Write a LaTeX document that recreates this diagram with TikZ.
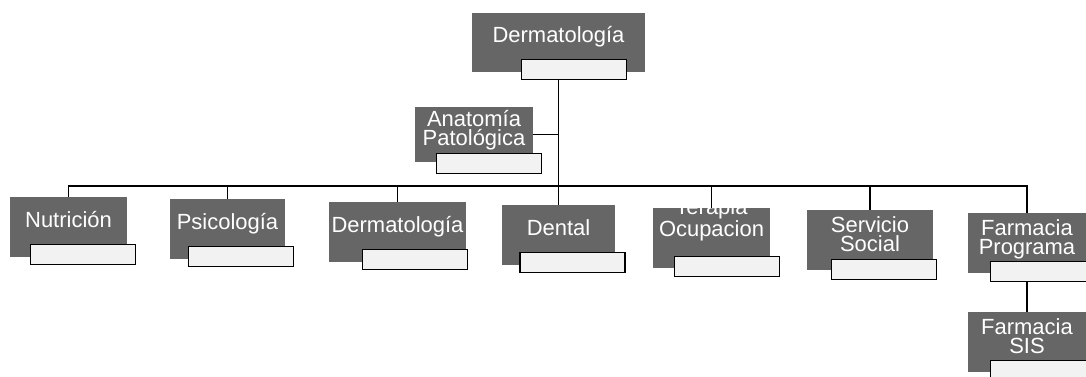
\documentclass[tikz,border=0pt]{standalone}
\usepackage{fontspec}
\newfontfamily\orgfont{Liberation Sans}
\usepackage{tikz}
\usetikzlibrary{positioning}
\definecolor{unitgray}{gray}{0.40}
\definecolor{taggray}{gray}{0.95}

\begin{document}
\begin{tikzpicture}[x=0.02cm, y=-0.02cm,
  unit/.style={fill=unitgray, text=white, font=\orgfont\fontsize{12.5}{11}\selectfont, align=center, inner sep=0pt, minimum height=1.2cm},
  one/.style={text height=9pt, text depth=9pt},
  two/.style={text height=20pt, text depth=7pt},
  tag/.style={draw, fill=taggray, line width=0.8pt, inner sep=0pt, minimum width=2.1cm, minimum height=0.4cm, anchor=south east},
  link/.style={draw, line width=1pt}]

\useasboundingbox (0,0) rectangle (1086,376);

\node [unit, one, minimum width=3.46cm, minimum height=1.18cm] (derm)     at (558.5,  42.5) {Dermatología};
\node [unit, two, minimum width=2.36cm, minimum height=1.1cm ] (anat)     at (474.0, 134.5) {Anatomía\\Patológica};

\node [unit, one, minimum width=2.34cm] (nutri)    at (  68.5, 227) {Nutrición};
\node [unit, one, minimum width=2.30cm] (psico)    at ( 227.5, 229) {Psicología};
\node [unit, one, minimum width=2.74cm] (dermb)    at ( 397.5, 232) {Dermatología};
\node [unit, one, minimum width=2.28cm] (dental)   at ( 558.5, 235) {Dental};
\node [unit, two, minimum width=2.34cm, text height=12pt, text depth=14pt] (terapia) at (711.5, 238) {Terapia\\Ocupacion};
\node [unit, two, minimum width=2.52cm] (social)   at ( 870.0, 240) {Servicio\\Social};
\node [unit, two, minimum width=2.36cm] (farmprog) at (1027.0, 243) {Farmacia\\Programa};
\node [unit, two, minimum width=2.36cm] (farmsis)  at (1027.0, 342) {Farmacia\\SIS};

\coordinate (bus) at (558.5,186);

\path [link] (derm.south)    -- (dental.north);
\path [link] (anat.east)     -- (anat.east -| derm.south);
\path [link] (nutri.north)   |- (bus) -| (farmprog.north);
\path [link] (bus -| psico)  -- (psico.north);
\path [link] (bus -| dermb)  -- (dermb.north);
\path [link] (bus -| terapia) -- (terapia.north);
\path [link] (bus -| social) -- (social.north);
\path [link] (farmprog.south) -- (farmsis.north);

\node [tag] (derm-tag)     at ([shift={(-18, 8)}]derm.south east)     {};
\node [tag] (anat-tag)     at ([shift={(  9,12)}]anat.south east)     {};
\node [tag] (nutri-tag)    at ([shift={(  9, 8)}]nutri.south east)    {};
\node [tag] (psico-tag)    at ([shift={(  9, 8)}]psico.south east)    {};
\node [tag] (dermb-tag)    at ([shift={(  2, 8)}]dermb.south east)    {};
\node [tag] (dental-tag)   at ([shift={( 10, 8)}]dental.south east)   {};
\node [tag] (terapia-tag)  at ([shift={( 10, 9)}]terapia.south east)  {};
\node [tag] (social-tag)   at ([shift={(  4,10)}]social.south east)   {};
\node [tag] (farmprog-tag) at ([shift={( 10, 9)}]farmprog.south east) {};
\node [tag] (farmsis-tag)  at ([shift={( 10, 9)}]farmsis.south east)  {};

\end{tikzpicture}
\end{document}
